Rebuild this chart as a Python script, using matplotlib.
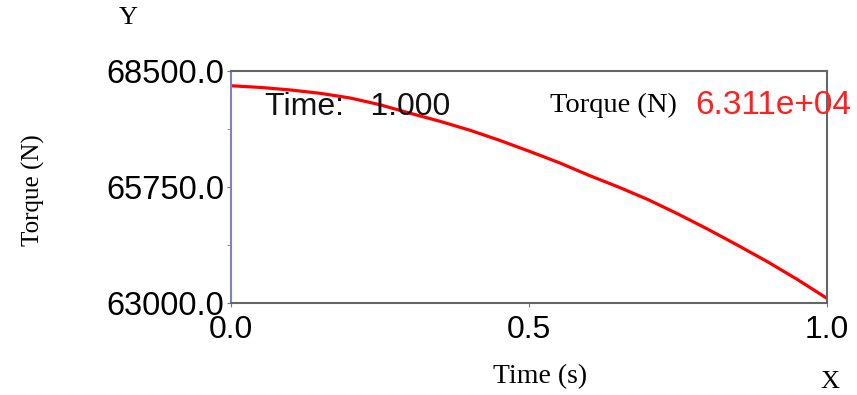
import matplotlib.pyplot as plt
import numpy as np

# torque curve
time_s = [0.0, 0.05, 0.1, 0.15, 0.2, 0.25, 0.3, 0.35, 0.4, 0.45, 0.5,
          0.55, 0.6, 0.65, 0.7, 0.75, 0.8, 0.85, 0.9, 0.95, 1.0]
torque = [68150, 68110, 68050, 67970, 67860, 67700, 67500, 67310, 67100, 66860, 66600,
          66330, 66030, 65750, 65450, 65110, 64750, 64370, 63980, 63560, 63110]

y_ticks = [63000.0, 65750.0, 68500.0]
x_ticks = [0.0, 0.5, 1.0]
current_time = 1.000
current_torque = 63110

sans = ['Liberation Sans', 'DejaVu Sans']
serif = ['Liberation Serif', 'DejaVu Serif']

fig = plt.figure(figsize=(8.57, 3.95), dpi=100)
ax = fig.add_axes([231 / 857, 1 - 303 / 395, 596 / 857, 232 / 395])

ax.plot(time_s, torque, color='#ff0000', lw=2.3)
ax.set_xlim(0, 1)
ax.set_ylim(63000, 68500)

ax.set_yticks(y_ticks)
ax.set_yticklabels([f'{v:.1f}' for v in y_ticks], fontfamily=sans, fontsize=23.5)
ax.set_yticks(np.arange(63000, 68501, 1375), minor=True)
ax.set_xticks(x_ticks)
ax.set_xticklabels([f'{v:.1f}' for v in x_ticks], fontfamily=sans, fontsize=23)
ax.tick_params(axis='y', which='both', length=3, color='#777777', pad=2)
ax.tick_params(axis='x', which='both', length=3, color='#777777', pad=6)

for s in ['top', 'bottom', 'right']:
    ax.spines[s].set_color('#666666')
    ax.spines[s].set_linewidth(1.5)
ax.spines['left'].set_color('#8080c0')
ax.spines['left'].set_linewidth(1.5)

ax.text(0.057, 0.91, f'Time:   {current_time:.3f}', transform=ax.transAxes,
        fontfamily=sans, fontsize=23, va='top', ha='left', color='#111111')
fig.text(550 / 857, 1 - 105 / 395, 'Torque (N)', fontfamily=serif, fontsize=20.5,
         va='center', ha='left')
fig.text(695 / 857, 1 - 105 / 395, f'{current_torque:.3e}',
         fontfamily=sans, fontsize=24, va='center', ha='left', color='#ff2020')

fig.text(33 / 857, 1 - 190 / 395, 'Torque (N)', fontfamily=serif, fontsize=18,
         rotation=90, va='center', ha='center')
fig.text(540 / 857, 1 - 377 / 395, 'Time (s)', fontfamily=serif, fontsize=20,
         va='center', ha='center')
fig.text(128 / 857, 1 - 18 / 395, 'Y', fontfamily=serif, fontsize=19,
         va='center', ha='center')
fig.text(830 / 857, 1 - 382 / 395, 'X', fontfamily=serif, fontsize=19,
         va='center', ha='center')

fig.savefig('out.png', dpi=100)
